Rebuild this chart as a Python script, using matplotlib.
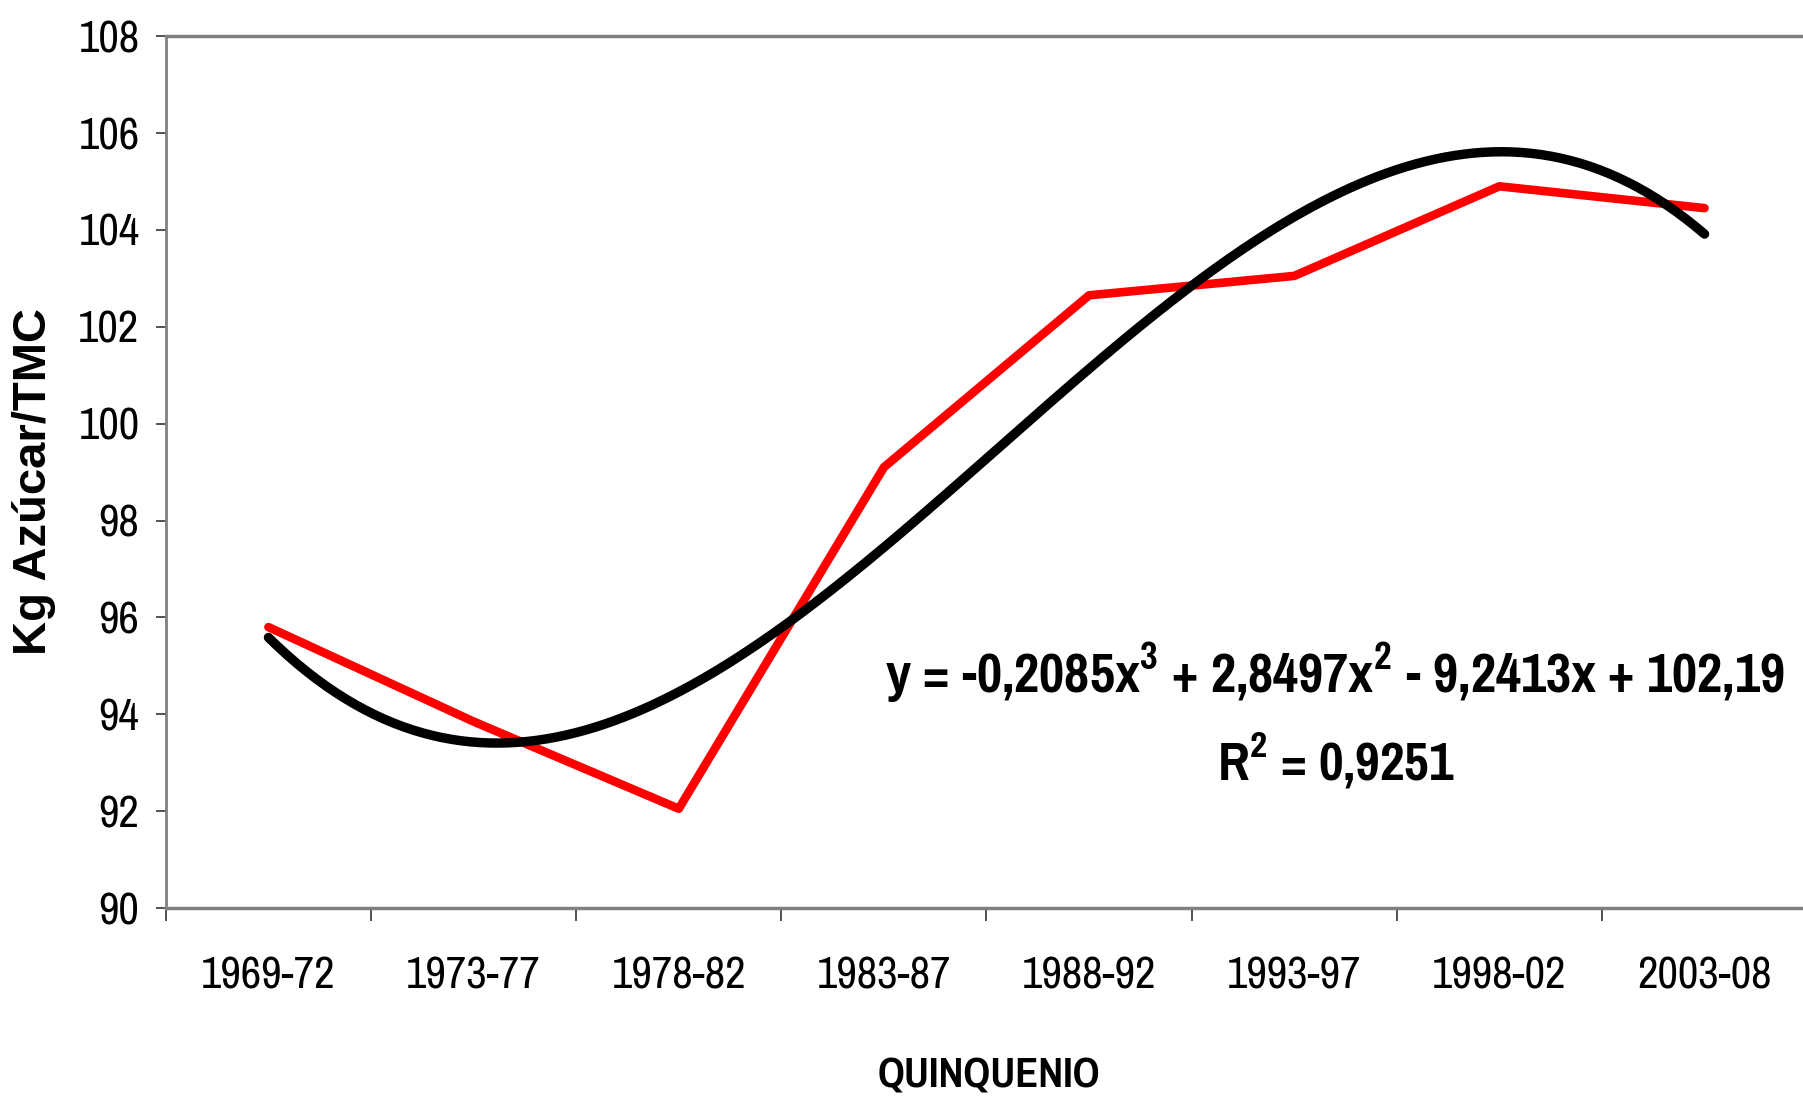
import numpy as np
import matplotlib
matplotlib.use("Agg")
import matplotlib.pyplot as plt
from matplotlib import font_manager

# datos
quinquenios = ["1969-72", "1973-77", "1978-82", "1983-87",
               "1988-92", "1993-97", "1998-02", "2003-08"]
kg_azucar = [95.8, 93.85, 92.05, 99.1, 102.65, 103.05, 104.9, 104.45]
ecuacion = "y = -0,2085x$^3$ + 2,8497x$^2$ - 9,2413x + 102,19"
r2_texto = "R$^2$ = 0,9251"

# fuente estrecha parecida a Arial Narrow
nombres = {f.name for f in font_manager.fontManager.ttflist}
narrow = "DejaVu Sans"
for cand in ["Liberation Sans Narrow", "Arial Narrow", "Pragati Narrow",
             "Archivo Narrow", "Roboto Condensed"]:
    if cand in nombres:
        narrow = cand
        break
plt.rcParams["font.family"] = [narrow, "DejaVu Sans"]
plt.rcParams["mathtext.fontset"] = "custom"
plt.rcParams["mathtext.rm"] = narrow + ":bold"
plt.rcParams["mathtext.bf"] = narrow + ":bold"

fig = plt.figure(figsize=(18.03, 10.96), dpi=100)
ax = fig.add_axes([0.092, 0.1715, 0.908, 0.7955])

x = np.arange(1, len(kg_azucar) + 1)
ax.plot(x, kg_azucar, color="#ff0000", lw=6.2, solid_capstyle="round", zorder=2)

# linea de tendencia polinomica de grado 3
coef = np.polyfit(x, kg_azucar, 3)
xs = np.linspace(1, len(kg_azucar), 300)
ax.plot(xs, np.polyval(coef, xs), color="black", lw=6.8, solid_capstyle="round", zorder=3)

ax.set_xlim(0.5, 8.48)
ax.set_ylim(90, 108)
ax.set_yticks(range(90, 109, 2))
ax.set_xticks(x)
ax.set_xticklabels(quinquenios)
ax.set_xticks(np.arange(0.5, 8.5, 1), minor=True)

ax.tick_params(axis="y", direction="out", length=7, width=1.2, color="#333333",
               labelsize=35, pad=12)
ax.tick_params(axis="x", which="major", length=0, labelsize=35, pad=35)
ax.tick_params(axis="x", which="minor", direction="out", length=9.5, width=1.2,
               color="#333333")

for lado in ["left", "bottom", "top"]:
    ax.spines[lado].set_color("#808080")
ax.spines["left"].set_linewidth(2)
ax.spines["bottom"].set_linewidth(2.5)
ax.spines["top"].set_linewidth(2.5)
ax.spines["right"].set_visible(False)

fig.text(0.5485, 0.019, "QUINQUENIO", fontsize=33, fontweight="bold",
         ha="center", va="center")
fig.text(0.019, 0.561, "Kg Azúcar/TMC", rotation=90, fontsize=34, fontweight="bold",
         family=["Liberation Sans", "DejaVu Sans"], ha="center", va="center")

fig.text(0.7406, 0.386, ecuacion, fontsize=43, fontweight="bold",
         ha="center", va="center")
fig.text(0.7406, 0.307, r2_texto, fontsize=42, fontweight="bold",
         ha="center", va="center")

fig.savefig("out.png", dpi=100)
